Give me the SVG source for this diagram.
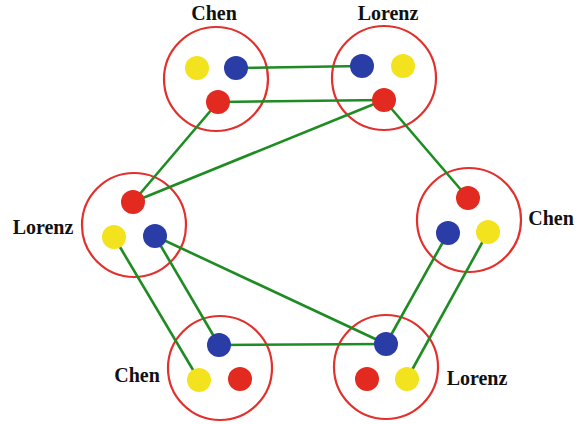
<svg xmlns="http://www.w3.org/2000/svg" width="580" height="424" viewBox="0 0 580 424">
  <style>
    .ring { fill: none; stroke: #e2302c; stroke-width: 2.2; }
    .link { stroke: #1e8c23; stroke-width: 2.6; fill: none; }
    .y { fill: #f3e31f; }
    .b { fill: #2a3ca6; }
    .r { fill: #e22a20; }
    .lbl { font-family: "Liberation Serif", "DejaVu Serif", serif; font-weight: bold; font-size: 20px; fill: #111; }
  </style>
  <rect width="580" height="424" fill="#fff"/>

  <!-- ring outlines sit under the links -->
  <g id="rings">
    <circle class="ring" cx="216" cy="79" r="52"/>
    <circle class="ring" cx="384" cy="78" r="52"/>
    <circle class="ring" cx="134" cy="225" r="52"/>
    <circle class="ring" cx="469" cy="220" r="52"/>
    <circle class="ring" cx="220" cy="368" r="52"/>
    <circle class="ring" cx="386" cy="367" r="52"/>
  </g>

  <g id="connectors">
    <line class="link" x1="236" y1="68" x2="362" y2="66"/>
    <line class="link" x1="218" y1="102" x2="384" y2="100"/>
    <line class="link" x1="218" y1="102" x2="133" y2="202"/>
    <line class="link" x1="384" y1="100" x2="133" y2="202"/>
    <line class="link" x1="384" y1="100" x2="468" y2="198"/>
    <line class="link" x1="155" y1="236" x2="219" y2="345"/>
    <line class="link" x1="114" y1="237" x2="199" y2="380"/>
    <line class="link" x1="155" y1="236" x2="386" y2="344"/>
    <line class="link" x1="219" y1="345" x2="386" y2="344"/>
    <line class="link" x1="448" y1="233" x2="386" y2="344"/>
    <line class="link" x1="488" y1="232" x2="407" y2="379"/>
  </g>

  <g id="chen-top">
    <circle class="y" cx="197" cy="68" r="12"/>
    <circle class="b" cx="236" cy="68" r="12"/>
    <circle class="r" cx="218" cy="102" r="12"/>
    <text class="lbl" x="214" y="20" text-anchor="middle">Chen</text>
  </g>

  <g id="lorenz-top">
    <circle class="b" cx="362" cy="66" r="12"/>
    <circle class="y" cx="403" cy="66" r="12"/>
    <circle class="r" cx="384" cy="100" r="12"/>
    <text class="lbl" x="388" y="20" text-anchor="middle">Lorenz</text>
  </g>

  <g id="lorenz-left">
    <circle class="r" cx="133" cy="202" r="12"/>
    <circle class="y" cx="114" cy="237" r="12"/>
    <circle class="b" cx="155" cy="236" r="12"/>
    <text class="lbl" x="43" y="234" text-anchor="middle">Lorenz</text>
  </g>

  <g id="chen-right">
    <circle class="r" cx="468" cy="198" r="12"/>
    <circle class="b" cx="448" cy="233" r="12"/>
    <circle class="y" cx="488" cy="232" r="12"/>
    <text class="lbl" x="551" y="225" text-anchor="middle">Chen</text>
  </g>

  <g id="chen-bottom">
    <circle class="b" cx="219" cy="345" r="12"/>
    <circle class="y" cx="199" cy="380" r="12"/>
    <circle class="r" cx="240" cy="379" r="12"/>
    <text class="lbl" x="137" y="382" text-anchor="middle">Chen</text>
  </g>

  <g id="lorenz-bottom">
    <circle class="b" cx="386" cy="344" r="12"/>
    <circle class="r" cx="367" cy="379" r="12"/>
    <circle class="y" cx="407" cy="379" r="12"/>
    <text class="lbl" x="477" y="385" text-anchor="middle">Lorenz</text>
  </g>
</svg>
